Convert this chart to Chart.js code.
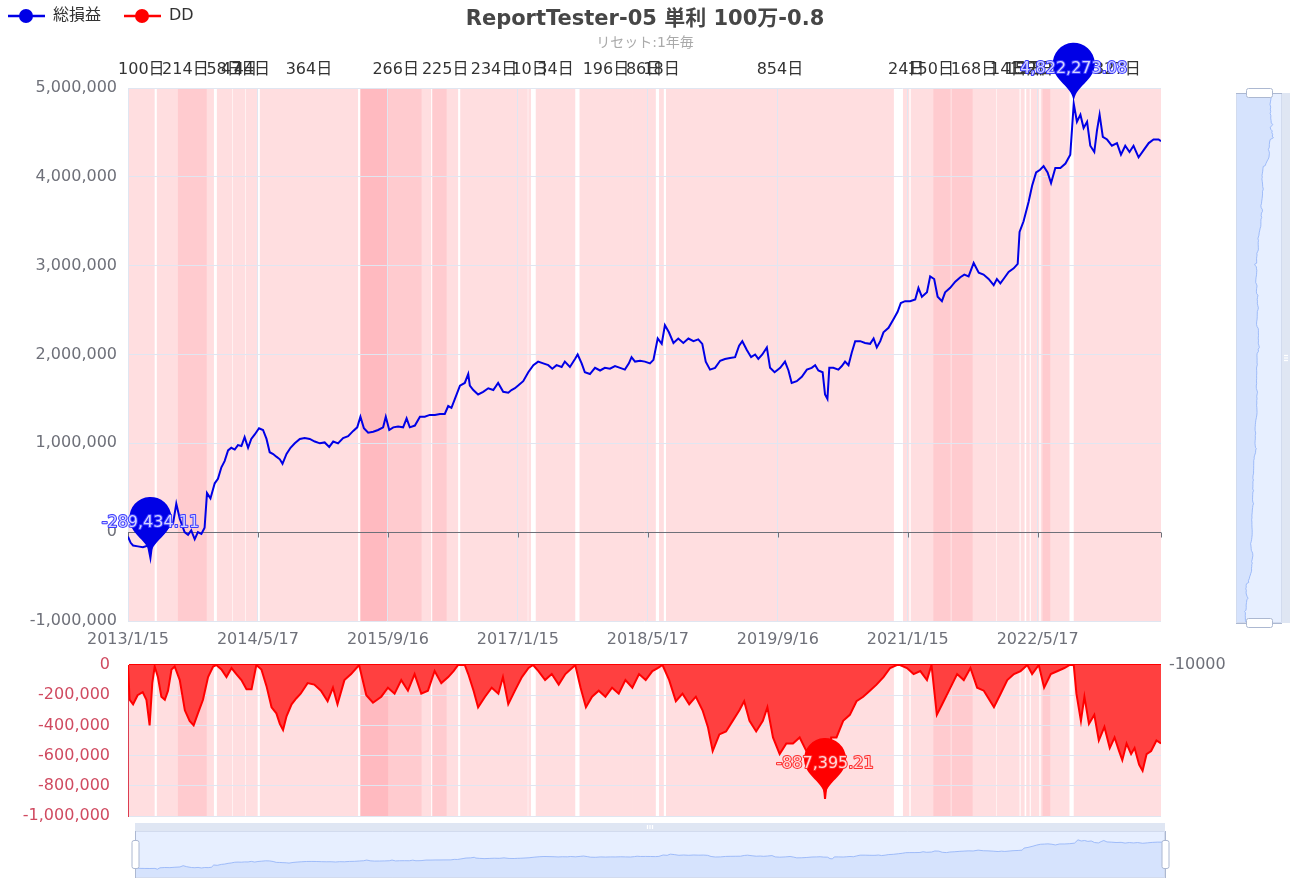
<!DOCTYPE html>
<html>
<head>
<meta charset="utf-8">
<script src="https://cdn.jsdelivr.net/npm/chart.js@4.4.0/dist/chart.umd.min.js"></script>
<style>
  html, body { margin: 0; padding: 0; background: #fff; }
  #wrap { position: relative; width: 1291px; height: 888px; }
  #main { position: absolute; left: 0; top: 0; }
  #dd { position: absolute; left: 0; top: 650px; }
</style>
</head>
<body>
<div id="wrap">
  <canvas id="main" width="1291" height="650"></canvas>
  <canvas id="dd" width="1291" height="238"></canvas>
</div>
<script>
// texts
const title = "ReportTester-05 単利 100万-0.8";
const subtitle = "リセット:1年毎";
const seriesNames = ["総損益", "DD"];
const rightAxisLabel = "-10000";

// x axis: days counted from the first date
const startDate = "2013/1/15";
const endDay = 3871;
const tickLabels = ["2013/1/15", "2014/5/17", "2015/9/16", "2017/1/15", "2018/5/17", "2019/9/16", "2021/1/15", "2022/5/17"];

// 総損益
const equityDays = [
  0, 10, 19, 37, 56, 75, 84, 94, 112, 131,
  150, 169, 181, 194, 212, 225, 237, 250, 262, 275,
  287, 296, 309, 325, 337, 350, 362, 375, 387, 400,
  412, 425, 437, 450, 462, 475, 491, 506, 519, 531,
  544, 556, 569, 579, 594, 609, 625, 644, 662, 681,
  700, 719, 737, 754, 769, 787, 806, 825, 844, 859,
  871, 884, 900, 919, 937, 956, 966, 979, 994, 1012,
  1031, 1044, 1056, 1075, 1094, 1112, 1131, 1150, 1169, 1187,
  1200, 1212, 1225, 1244, 1262, 1275, 1281, 1294, 1312, 1331,
  1350, 1369, 1387, 1406, 1425, 1437, 1450, 1462, 1481, 1500,
  1519, 1537, 1556, 1575, 1590, 1606, 1625, 1637, 1656, 1675,
  1685, 1700, 1712, 1731, 1750, 1769, 1787, 1806, 1825, 1844,
  1862, 1877, 1887, 1900, 1919, 1937, 1956, 1969, 1985, 2000,
  2012, 2027, 2044, 2062, 2081, 2100, 2119, 2137, 2152, 2165,
  2181, 2200, 2219, 2237, 2256, 2275, 2290, 2302, 2319, 2335,
  2350, 2362, 2377, 2394, 2406, 2423, 2444, 2462, 2475, 2487,
  2506, 2525, 2544, 2562, 2575, 2587, 2603, 2612, 2621, 2628,
  2643, 2662, 2675, 2687, 2700, 2712, 2725, 2744, 2762, 2781,
  2794, 2806, 2819, 2831, 2850, 2869, 2884, 2896, 2912, 2931,
  2950, 2962, 2975, 2994, 3006, 3021, 3034, 3050, 3062, 3081,
  3100, 3119, 3134, 3150, 3169, 3188, 3206, 3225, 3244, 3256,
  3269, 3281, 3300, 3319, 3334, 3341, 3356, 3375, 3388, 3403,
  3418, 3431, 3446, 3459, 3475, 3494, 3513, 3531, 3544, 3556,
  3569, 3581, 3594, 3606, 3621, 3631, 3641, 3653, 3669, 3687,
  3706, 3721, 3737, 3753, 3768, 3787, 3806, 3825, 3843, 3862,
  3871
];
const equity = [
  -50000, -120000, -150000, -160000, -170000, -150000, -289434.11, -50000, 0, -20000,
  50000, 100000, 320000, 150000, 0, -30000, 20000, -80000, 0, -20000,
  50000, 440000, 380000, 550000, 600000, 730000, 800000, 920000, 950000, 930000,
  980000, 970000, 1070000, 950000, 1050000, 1100000, 1170000, 1150000, 1050000, 900000,
  880000, 850000, 820000, 770000, 880000, 950000, 1000000, 1050000, 1060000, 1050000,
  1020000, 1000000, 1010000, 960000, 1020000, 1000000, 1060000, 1080000, 1140000, 1180000,
  1300000, 1170000, 1120000, 1130000, 1150000, 1180000, 1300000, 1150000, 1180000, 1190000,
  1180000, 1280000, 1180000, 1200000, 1300000, 1300000, 1320000, 1320000, 1330000, 1330000,
  1420000, 1400000, 1500000, 1650000, 1680000, 1780000, 1650000, 1600000, 1550000, 1580000,
  1620000, 1600000, 1680000, 1580000, 1570000, 1600000, 1620000, 1650000, 1700000, 1800000,
  1880000, 1920000, 1900000, 1880000, 1840000, 1880000, 1860000, 1920000, 1860000, 1950000,
  2000000, 1900000, 1800000, 1780000, 1850000, 1820000, 1850000, 1840000, 1870000, 1850000,
  1830000, 1900000, 1970000, 1920000, 1930000, 1920000, 1900000, 1940000, 2180000, 2120000,
  2330000, 2250000, 2130000, 2180000, 2130000, 2180000, 2150000, 2170000, 2120000, 1920000,
  1830000, 1850000, 1930000, 1950000, 1960000, 1970000, 2100000, 2150000, 2050000, 1970000,
  2000000, 1950000, 2000000, 2080000, 1850000, 1800000, 1850000, 1920000, 1820000, 1680000,
  1700000, 1750000, 1830000, 1850000, 1880000, 1820000, 1800000, 1550000, 1500000, 1850000,
  1850000, 1830000, 1870000, 1920000, 1880000, 2020000, 2150000, 2150000, 2130000, 2120000,
  2180000, 2080000, 2150000, 2250000, 2300000, 2400000, 2480000, 2580000, 2600000, 2600000,
  2620000, 2750000, 2650000, 2700000, 2880000, 2850000, 2650000, 2600000, 2700000, 2750000,
  2820000, 2870000, 2900000, 2880000, 3030000, 2920000, 2900000, 2850000, 2780000, 2850000,
  2800000, 2850000, 2930000, 2970000, 3020000, 3380000, 3500000, 3720000, 3900000, 4050000,
  4080000, 4120000, 4050000, 3930000, 4100000, 4100000, 4150000, 4250000, 4822273.08, 4620000,
  4700000, 4550000, 4620000, 4350000, 4280000, 4520000, 4700000, 4450000, 4420000, 4350000,
  4380000, 4250000, 4350000, 4280000, 4350000, 4220000, 4300000, 4380000, 4420000, 4420000,
  4400000
];

// DD
const ddDays = [
  0, 6, 19, 36, 55, 69, 81, 91, 100, 112,
  125, 138, 150, 163, 175, 194, 213, 231, 246, 262,
  281, 300, 319, 331, 350, 369, 388, 406, 425, 444,
  463, 481, 500, 519, 538, 556, 569, 581, 594, 613,
  631, 647, 673, 698, 723, 748, 768, 785, 811, 836,
  866, 893, 918, 949, 974, 999, 1024, 1049, 1074, 1099,
  1124, 1149, 1174, 1200, 1220, 1237, 1262, 1275, 1295, 1312,
  1338, 1363, 1388, 1405, 1425, 1450, 1476, 1501, 1518, 1538,
  1563, 1588, 1614, 1639, 1664, 1676, 1696, 1716, 1739, 1764,
  1789, 1814, 1839, 1864, 1890, 1915, 1940, 1965, 1985, 2003,
  2028, 2053, 2078, 2103, 2128, 2153, 2173, 2191, 2216, 2241,
  2266, 2291, 2309, 2329, 2354, 2379, 2396, 2417, 2442, 2467,
  2492, 2517, 2542, 2567, 2592, 2612, 2635, 2655, 2680, 2705,
  2730, 2755, 2780, 2805, 2831, 2856, 2881, 2893, 2919, 2944,
  2969, 2994, 3011, 3031, 3051, 3082, 3107, 3132, 3157, 3182,
  3207, 3245, 3270, 3295, 3320, 3345, 3370, 3388, 3413, 3433,
  3458, 3484, 3509, 3529, 3544, 3554, 3571, 3584, 3601, 3621,
  3638, 3659, 3679, 3697, 3714, 3726, 3742, 3759, 3772, 3789,
  3802, 3817, 3834, 3854, 3871
];
const drawdown = [
  0, -230000, -260000, -200000, -180000, -230000, -400000, -120000, -10000, -80000,
  -210000, -230000, -170000, -30000, -10000, -100000, -300000, -370000, -400000, -320000,
  -230000, -80000, -10000, 0, -30000, -80000, -20000, -60000, -100000, -160000,
  -160000, 0, -30000, -140000, -280000, -320000, -390000, -430000, -340000, -260000,
  -220000, -190000, -120000, -130000, -170000, -240000, -150000, -260000, -100000, -60000,
  0, -200000, -250000, -210000, -150000, -190000, -100000, -170000, -60000, -190000,
  -170000, -40000, -120000, -80000, -40000, 0, 0, -60000, -170000, -280000,
  -210000, -150000, -190000, -80000, -260000, -170000, -80000, -20000, 0, -40000,
  -100000, -60000, -130000, -60000, -20000, 0, -150000, -280000, -210000, -170000,
  -210000, -150000, -190000, -100000, -150000, -60000, -100000, -40000, -20000, 0,
  -100000, -240000, -190000, -260000, -210000, -300000, -410000, -570000, -460000, -440000,
  -370000, -300000, -240000, -370000, -440000, -370000, -280000, -480000, -590000, -520000,
  -520000, -480000, -570000, -520000, -500000, -887395.21, -480000, -480000, -370000, -330000,
  -240000, -210000, -170000, -130000, -80000, -20000, 0, 0, -20000, -60000,
  -40000, -100000, 0, -330000, -260000, -150000, -60000, -100000, -20000, -150000,
  -170000, -280000, -190000, -100000, -60000, -40000, 0, -60000, 0, -150000,
  -60000, -40000, -20000, 0, 0, -190000, -370000, -210000, -390000, -330000,
  -500000, -410000, -550000, -480000, -570000, -630000, -520000, -590000, -550000, -660000,
  -700000, -590000, -570000, -500000, -520000
];

// drawdown periods [from day, to day, label] and the deeper stretches inside them
const ddBands = [
  [0, 100, "100日"], [108, 322, "214日"], [333, 391, "58日"], [393, 440, "47日"], [442, 486, "44日"],
  [494, 862, "364日"], [870, 1136, "266日"], [1140, 1237, "225日"], [1245, 1498, "234日"],
  [1500, 1510, "10日"], [1528, 1676, "34日"], [1692, 1890, "196日"], [1890, 1978, "86日"],
  [1990, 2008, "18日"], [2016, 2870, "854日"], [2904, 2928, "24日"], [2933, 3083, "150日"],
  [3086, 3254, "168日"], [3256, 3341, "14日"], [3345, 3360, "15日"], [3366, 3379, "13日"],
  [3383, 3415, "32日"], [3420, 3528, "108日"], [3544, 3871, "327日"]
];
const deepBands = [[187, 295], [871, 975], [871, 1100], [1140, 1194], [3018, 3165], [3427, 3456]];

const FONT = '"DejaVu Sans", "Noto Sans CJK JP", sans-serif';
Chart.defaults.font.family = FONT;
Chart.defaults.font.size = 16;
Chart.defaults.color = '#6e7079';

function dayOf(s) {
  const [y, m, d] = s.split('/').map(Number);
  const [y0, m0, d0] = startDate.split('/').map(Number);
  return Math.round((Date.UTC(y, m - 1, d) - Date.UTC(y0, m0 - 1, d0)) / 864e5);
}
const tickDays = tickLabels.map(dayOf);
const fmt = v => v.toLocaleString('en-US');
const fmt2 = v => v.toLocaleString('en-US', { minimumFractionDigits: 2, maximumFractionDigits: 2 });

// shared x axis
function xAxis(show) {
  return {
    type: 'linear', min: 0, max: endDay, display: show,
    afterBuildTicks: s => { s.ticks = tickDays.map(v => ({ value: v })); },
    ticks: { autoSkip: false, maxRotation: 0, minRotation: 0, padding: 9, color: '#6e7079',
             callback: (v, i) => tickLabels[i] },
    grid: { color: '#e0e6f1', drawTicks: false },
    border: { display: false },
    afterFit: s => { s.height = show ? 29 : 0; }
  };
}

const bands = {
  id: 'bands',
  beforeDraw(chart) {
    const { ctx, chartArea: a, scales: { x } } = chart;
    ctx.save();
    ctx.fillStyle = 'rgba(255,10,20,0.135)';
    for (const [s, e] of ddBands) {
      const x0 = x.getPixelForValue(s), x1 = x.getPixelForValue(e);
      ctx.fillRect(x0, a.top, x1 - x0, a.bottom - a.top);
    }
    ctx.fillStyle = 'rgba(255,10,30,0.085)';
    for (const [s, e] of deepBands) {
      const x0 = x.getPixelForValue(s), x1 = x.getPixelForValue(e);
      ctx.fillRect(x0, a.top, x1 - x0, a.bottom - a.top);
    }
    ctx.restore();
  }
};

// ECharts-like pin
function drawPin(ctx, x, y, color) {
  const r = 21, h = 70;
  const dy = r * r / (h - r), cy = y - h + r + dy;
  const ang = Math.asin(dy / r), dx = Math.cos(ang) * r;
  const tx = Math.sin(ang), ty = Math.cos(ang), cp = r * 0.6, cp2 = r * 0.7;
  ctx.beginPath();
  ctx.moveTo(x - dx, cy + dy);
  ctx.arc(x, cy, r, Math.PI - ang, Math.PI * 2 + ang);
  ctx.bezierCurveTo(x + dx - tx * cp, cy + dy + ty * cp, x, y - cp2, x, y);
  ctx.bezierCurveTo(x, y - cp2, x - dx + tx * cp, cy + dy + ty * cp, x - dx, cy + dy);
  ctx.closePath();
  ctx.fillStyle = color;
  ctx.fill();
}
function pinText(ctx, text, x, y, fill, stroke) {
  ctx.font = '16px ' + FONT;
  ctx.textAlign = 'center';
  ctx.textBaseline = 'middle';
  ctx.lineJoin = 'round';
  ctx.lineWidth = 2;
  ctx.strokeStyle = stroke;
  ctx.strokeText(text, x, y);
  ctx.fillStyle = fill;
  ctx.fillText(text, x, y);
}
function handleRect(ctx, x, y, w, h) {
  ctx.beginPath();
  ctx.roundRect(x, y, w, h, 2);
  ctx.fillStyle = '#fff';
  ctx.fill();
  ctx.strokeStyle = '#acb8d1';
  ctx.lineWidth = 1;
  ctx.stroke();
}
function grip(ctx, x, y, vertical) {
  ctx.fillStyle = '#fff';
  for (let k = -1; k <= 1; k++) {
    if (vertical) ctx.fillRect(x - 2, y + k * 2.5 - 0.6, 4, 1.2);
    else ctx.fillRect(x + k * 2.5 - 0.6, y - 2, 1.2, 4);
  }
}
const lo = Math.min(...equity), hi = Math.max(...equity);
const shLo = lo - (hi - lo) * 0.3, shHi = hi + (hi - lo) * 0.3;

const zeroTicks = {
  id: 'zeroTicks',
  beforeDatasetsDraw(chart) {
    const { ctx, scales: { x, y } } = chart;
    const y0 = Math.round(y.getPixelForValue(0)) + 0.5;
    ctx.save();
    ctx.strokeStyle = '#6e7079';
    ctx.lineWidth = 1;
    for (const d of tickDays.concat([endDay])) {
      const px = Math.round(x.getPixelForValue(d)) + 0.5;
      ctx.beginPath(); ctx.moveTo(px, y0); ctx.lineTo(px, y0 + 5); ctx.stroke();
    }
    ctx.restore();
  }
};

const mainDeco = {
  id: 'mainDeco',
  afterDraw(chart) {
    const { ctx, scales: { x, y } } = chart;
    ctx.save();
    // title
    ctx.textAlign = 'center';
    ctx.textBaseline = 'middle';
    ctx.fillStyle = '#464646';
    ctx.font = 'bold 21px ' + FONT;
    ctx.fillText(title, 645, 20);
    ctx.fillStyle = '#aaa';
    ctx.font = '14px ' + FONT;
    ctx.fillText(subtitle, 645, 43);
    // legend
    const items = [[seriesNames[0], '#0000e6', 8], [seriesNames[1], '#ff0000', 124]];
    for (const [name, col, lx] of items) {
      ctx.strokeStyle = col; ctx.lineWidth = 2.5;
      ctx.beginPath(); ctx.moveTo(lx, 16); ctx.lineTo(lx + 37, 16); ctx.stroke();
      ctx.fillStyle = col;
      ctx.beginPath(); ctx.arc(lx + 18, 16, 7, 0, Math.PI * 2); ctx.fill();
      ctx.fillStyle = '#333'; ctx.font = '16px ' + FONT; ctx.textAlign = 'left';
      ctx.fillText(name, lx + 45, 16);
    }
    // period labels
    ctx.textAlign = 'center';
    ctx.fillStyle = '#333';
    ctx.font = '16px ' + FONT;
    for (const [s, e, lab] of ddBands) ctx.fillText(lab, x.getPixelForValue((s + e) / 2), 70);
    // max / min pins
    const iMax = equity.indexOf(hi), iMin = equity.indexOf(lo);
    for (const i of [iMin, iMax]) {
      const px = x.getPixelForValue(equityDays[i]), py = y.getPixelForValue(equity[i]);
      drawPin(ctx, px, py, '#0000e6');
      pinText(ctx, fmt2(equity[i]), px, py - 35, '#d4d4ff', '#3a3aff');
    }
    // vertical slider
    const L = 1236, R = 1282, T = 93, B = 623, W = R - L, H = B - T;
    ctx.fillStyle = 'rgba(135,175,255,0.2)';
    ctx.fillRect(L, T, W, H);
    ctx.fillStyle = 'rgba(210,219,238,0.7)';
    ctx.fillRect(R, T, 8, H);
    ctx.beginPath();
    ctx.moveTo(L, B);
    equity.forEach((v, i) => ctx.lineTo(L + (v - shLo) / (shHi - shLo) * W, B - equityDays[i] / endDay * H));
    ctx.lineTo(L, T);
    ctx.closePath();
    ctx.fillStyle = 'rgba(143,176,247,0.2)';
    ctx.fill();
    ctx.beginPath();
    equity.forEach((v, i) => ctx.lineTo(L + (v - shLo) / (shHi - shLo) * W, B - equityDays[i] / endDay * H));
    ctx.strokeStyle = 'rgba(143,176,247,0.8)'; ctx.lineWidth = 1; ctx.stroke();
    ctx.strokeStyle = '#d2dbee';
    ctx.strokeRect(L + 0.5, T + 0.5, W - 1, H - 1);
    grip(ctx, R + 4, (T + B) / 2, true);
    for (const hy of [T, B]) {
      ctx.strokeStyle = '#acb8d1'; ctx.lineWidth = 1;
      ctx.beginPath(); ctx.moveTo(L, hy + 0.5); ctx.lineTo(R, hy + 0.5); ctx.stroke();
      handleRect(ctx, 1246.5, hy - 4.5, 26, 9);
    }
    ctx.restore();
  }
};

const ddDeco = {
  id: 'ddDeco',
  afterDraw(chart) {
    const { ctx, chartArea: a, scales: { x, y } } = chart;
    ctx.save();
    const dmin = Math.min(...drawdown), i = drawdown.indexOf(dmin);
    const px = x.getPixelForValue(ddDays[i]), py = y.getPixelForValue(dmin);
    drawPin(ctx, px, py, '#ff0000');
    pinText(ctx, fmt2(dmin), px, py - 35, '#ffd6d6', '#ff2a2a');
    // right axis label
    ctx.fillStyle = '#6e7079';
    ctx.font = '16px ' + FONT;
    ctx.textAlign = 'left';
    ctx.textBaseline = 'middle';
    ctx.fillText(rightAxisLabel, a.right + 8, a.top);
    // bottom slider
    const L = 135, R = 1165, T = 181, B = 228, W = R - L, H = B - T;
    ctx.fillStyle = 'rgba(210,219,238,0.7)';
    ctx.fillRect(L, T - 8, W, 8);
    ctx.fillStyle = 'rgba(135,175,255,0.2)';
    ctx.fillRect(L, T, W, H);
    ctx.beginPath();
    ctx.moveTo(L, B);
    equity.forEach((v, k) => ctx.lineTo(L + equityDays[k] / endDay * W, B - (v - shLo) / (shHi - shLo) * H));
    ctx.lineTo(R, B);
    ctx.closePath();
    ctx.fillStyle = 'rgba(143,176,247,0.2)';
    ctx.fill();
    ctx.beginPath();
    equity.forEach((v, k) => ctx.lineTo(L + equityDays[k] / endDay * W, B - (v - shLo) / (shHi - shLo) * H));
    ctx.strokeStyle = 'rgba(143,176,247,0.8)'; ctx.lineWidth = 1; ctx.stroke();
    ctx.strokeStyle = '#d2dbee';
    ctx.strokeRect(L + 0.5, T + 0.5, W - 1, H - 1);
    grip(ctx, (L + R) / 2, T - 4, false);
    for (const hx of [L, R]) {
      ctx.strokeStyle = '#acb8d1'; ctx.lineWidth = 1;
      ctx.beginPath(); ctx.moveTo(hx + 0.5, T); ctx.lineTo(hx + 0.5, B); ctx.stroke();
      handleRect(ctx, hx - 3, (T + B) / 2 - 14, 7, 28);
    }
    ctx.restore();
  }
};

new Chart(document.getElementById('main'), {
  type: 'line',
  data: {
    datasets: [{
      label: seriesNames[0],
      data: equityDays.map((d, i) => ({ x: d, y: equity[i] })),
      borderColor: '#0000e6', borderWidth: 2, pointRadius: 0, tension: 0, fill: false
    }]
  },
  options: {
    responsive: false, animation: false, events: [],
    layout: { padding: { top: 88, right: 130, left: 0, bottom: 0 } },
    plugins: { legend: { display: false }, tooltip: { enabled: false } },
    scales: {
      x: xAxis(true),
      y: {
        min: -1000000, max: 5000000,
        ticks: { stepSize: 1000000, padding: 11, color: '#6e7079', autoSkip: false, callback: v => fmt(v) },
        grid: { drawTicks: false, color: c => c.tick && c.tick.value === 0 ? '#6e7079' : '#e0e6f1' },
        border: { display: false },
        afterFit: s => { s.width = 128; s.paddingTop = 0; s.paddingBottom = 0; }
      }
    }
  },
  plugins: [bands, zeroTicks, mainDeco]
});

new Chart(document.getElementById('dd'), {
  type: 'line',
  data: {
    datasets: [{
      label: seriesNames[1],
      data: ddDays.map((d, i) => ({ x: d, y: drawdown[i] })),
      borderColor: '#ff0000', borderWidth: 2, backgroundColor: '#ff4040',
      pointRadius: 0, tension: 0, fill: 'origin'
    }]
  },
  options: {
    responsive: false, animation: false, events: [],
    layout: { padding: { top: 15, right: 130, left: 0, bottom: 72 } },
    plugins: { legend: { display: false }, tooltip: { enabled: false } },
    scales: {
      x: xAxis(false),
      y: {
        min: -1000000, max: 0,
        ticks: { stepSize: 200000, padding: 18, color: '#d04a60', autoSkip: false, callback: v => fmt(v) },
        grid: {
          drawTicks: false,
          color: c => c.tick && c.tick.value === 0 ? '#ff0000' : '#e0e6f1',
          lineWidth: c => c.tick && c.tick.value === 0 ? 2 : 1
        },
        border: { display: true, color: '#dc3c50', width: 1 },
        afterFit: s => { s.width = 128; s.paddingTop = 0; s.paddingBottom = 0; }
      }
    }
  },
  plugins: [bands, ddDeco]
});
</script>
</body>
</html>
